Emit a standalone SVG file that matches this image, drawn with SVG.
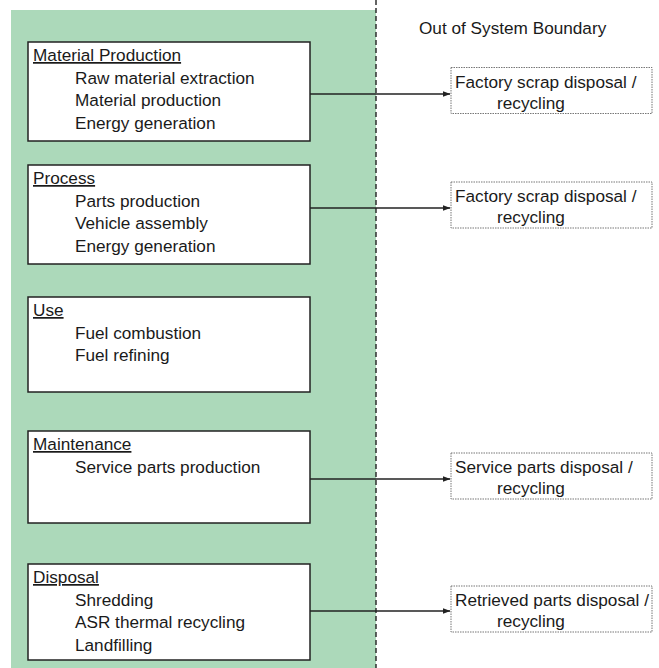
<svg xmlns="http://www.w3.org/2000/svg" width="659" height="668" viewBox="0 0 659 668">
<defs>
<style>
text{font-family:"Liberation Sans",Arial,sans-serif;font-size:17.2px;fill:#1a1a1a}
.t{text-decoration:underline}
.box{fill:#fff;stroke:#222;stroke-width:1.5}
.ob{fill:#fff;stroke:#777;stroke-width:1;stroke-dasharray:1.5 1}
.c{stroke:#222;stroke-width:1.5;fill:none}
</style>
<marker id="ah" markerWidth="8" markerHeight="6" refX="7.5" refY="3" orient="auto" markerUnits="userSpaceOnUse">
<path d="M0,0 L8,3 L0,6 z" fill="#222"/>
</marker>
</defs>
<rect x="11" y="10" width="365" height="658" fill="#acd9ba"/>
<line x1="376" y1="0" x2="376" y2="668" stroke="#222" stroke-width="1.4" stroke-dasharray="5 3"/>
<text x="419" y="34">Out of System Boundary</text>

<g id="connectors">
<line class="c" x1="310" y1="94" x2="450" y2="94" marker-end="url(#ah)"/>
<line class="c" x1="310" y1="208" x2="450" y2="208" marker-end="url(#ah)"/>
<line class="c" x1="310" y1="479" x2="450" y2="479" marker-end="url(#ah)"/>
<line class="c" x1="310" y1="611" x2="450" y2="611" marker-end="url(#ah)"/>
</g>

<g id="material-production">
<rect class="box" x="28" y="42" width="282" height="99"/>
<text class="t" x="33" y="61">Material Production</text>
<text x="75" y="83.5">Raw material extraction</text>
<text x="75" y="106">Material production</text>
<text x="75" y="128.5">Energy generation</text>
</g>

<g id="process">
<rect class="box" x="28" y="165" width="282" height="99"/>
<text class="t" x="33" y="184">Process</text>
<text x="75" y="206.5">Parts production</text>
<text x="75" y="229">Vehicle assembly</text>
<text x="75" y="251.5">Energy generation</text>
</g>

<g id="use">
<rect class="box" x="28" y="297" width="282" height="95"/>
<text class="t" x="33" y="316">Use</text>
<text x="75" y="338.5">Fuel combustion</text>
<text x="75" y="361">Fuel refining</text>
</g>

<g id="maintenance">
<rect class="box" x="28" y="431" width="282" height="92"/>
<text class="t" x="33" y="450">Maintenance</text>
<text x="75" y="472.5">Service parts production</text>
</g>

<g id="disposal">
<rect class="box" x="28" y="564" width="282" height="96"/>
<text class="t" x="33" y="583">Disposal</text>
<text x="75" y="605.5">Shredding</text>
<text x="75" y="628">ASR thermal recycling</text>
<text x="75" y="650.5">Landfilling</text>
</g>

<g id="out-factory-scrap-1">
<rect class="ob" x="451" y="67.5" width="201" height="46"/>
<text x="455" y="87.5">Factory scrap disposal /</text>
<text x="497" y="108.5">recycling</text>
</g>

<g id="out-factory-scrap-2">
<rect class="ob" x="451" y="182" width="201" height="46"/>
<text x="455" y="202">Factory scrap disposal /</text>
<text x="497" y="223">recycling</text>
</g>

<g id="out-service-parts">
<rect class="ob" x="451" y="453" width="201" height="46"/>
<text x="455" y="473">Service parts disposal /</text>
<text x="497" y="494">recycling</text>
</g>

<g id="out-retrieved-parts">
<rect class="ob" x="451" y="586" width="201" height="46"/>
<text x="455" y="606">Retrieved parts disposal /</text>
<text x="497" y="627">recycling</text>
</g>
</svg>
